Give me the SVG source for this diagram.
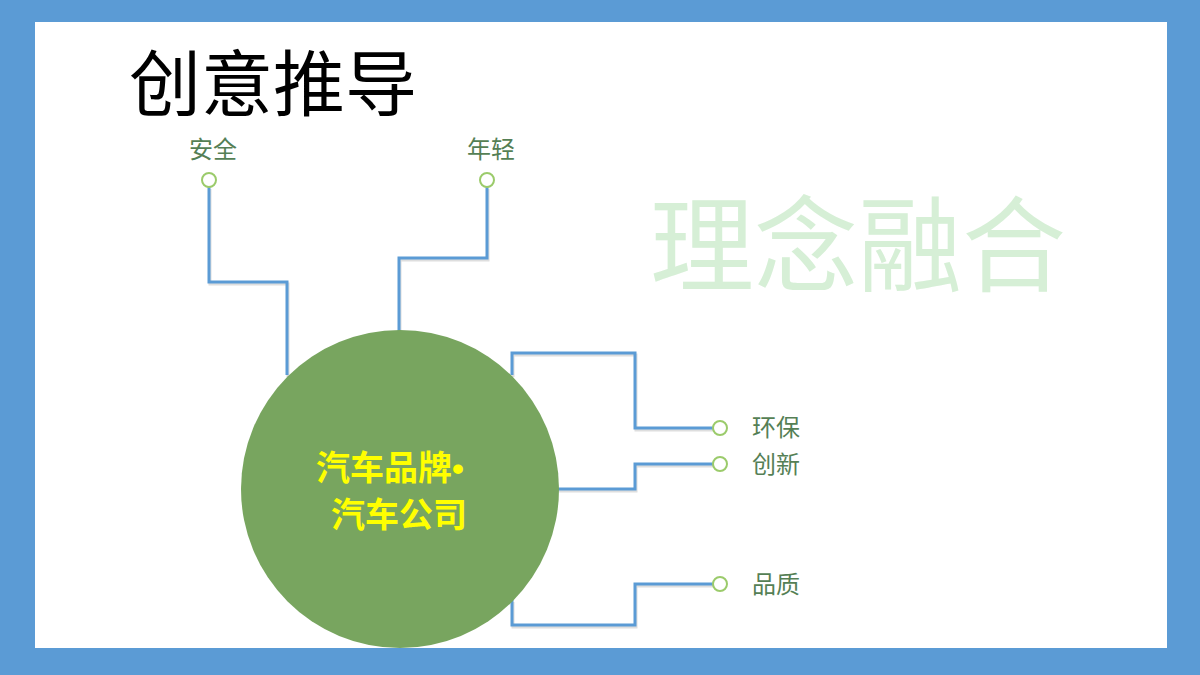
<svg xmlns="http://www.w3.org/2000/svg" width="1200" height="675" viewBox="0 0 1200 675">
<style>
.conn{fill:none;stroke:#5B9BD5;stroke-width:3;}
.shadow{fill:none;stroke:#c8c8c8;stroke-width:3;opacity:0.6;}
.dot{fill:#ffffff;stroke:#9BCB6B;stroke-width:2;}
.lbl{font-family:"Noto Sans CJK SC","Noto Sans",sans-serif;font-size:24px;fill:#557F55;}
.center{font-family:"Noto Sans CJK SC","Noto Sans",sans-serif;font-size:34px;font-weight:bold;fill:#FFFF00;text-anchor:middle;}
</style>
<rect x="0" y="0" width="1200" height="675" fill="#5B9BD5"/>
<rect x="35" y="22" width="1132" height="626" fill="#ffffff"/>
<text x="129" y="110" font-family="Noto Sans CJK SC, sans-serif" font-size="72" fill="#000000">创意推导</text>
<text x="650" y="284" font-family="Noto Sans CJK SC, sans-serif" font-size="104" fill="#D6EFD6">理念融合</text>
<g id="connectors">
<g transform="translate(1,2)">
<polyline class="shadow" points="209,187 209,282 287,282 287,375"/>
<polyline class="shadow" points="487,187 487,258 399,258 399,331"/>
<polyline class="shadow" points="512,375 512,353 635,353 635,428 713,428"/>
<polyline class="shadow" points="556,489 635,489 635,464 713,464"/>
<polyline class="shadow" points="512,600 512,625 635,625 635,584 713,584"/>
</g>
<polyline class="conn" points="209,187 209,282 287,282 287,375"/>
<polyline class="conn" points="487,187 487,258 399,258 399,331"/>
<polyline class="conn" points="512,375 512,353 635,353 635,428 713,428"/>
<polyline class="conn" points="556,489 635,489 635,464 713,464"/>
<polyline class="conn" points="512,600 512,625 635,625 635,584 713,584"/>
</g>
<g id="hub">
<circle cx="400" cy="489" r="159" fill="#78A55F"/>
<text class="center" x="390" y="480">汽车品牌<tspan font-family="Liberation Sans, sans-serif">•</tspan></text>
<text class="center" x="399" y="527">汽车公司</text>
</g>
<g id="node-anquan">
<circle class="dot" cx="209" cy="180" r="7"/>
<text class="lbl" x="213" y="158" text-anchor="middle">安全</text>
</g>
<g id="node-nianqing">
<circle class="dot" cx="487" cy="180" r="7"/>
<text class="lbl" x="491" y="158" text-anchor="middle">年轻</text>
</g>
<g id="node-huanbao">
<circle class="dot" cx="720" cy="428" r="7"/>
<text class="lbl" x="752" y="436">环保</text>
</g>
<g id="node-chuangxin">
<circle class="dot" cx="720" cy="464" r="7"/>
<text class="lbl" x="752" y="473">创新</text>
</g>
<g id="node-pinzhi">
<circle class="dot" cx="720" cy="584" r="7"/>
<text class="lbl" x="752" y="593">品质</text>
</g>
</svg>
